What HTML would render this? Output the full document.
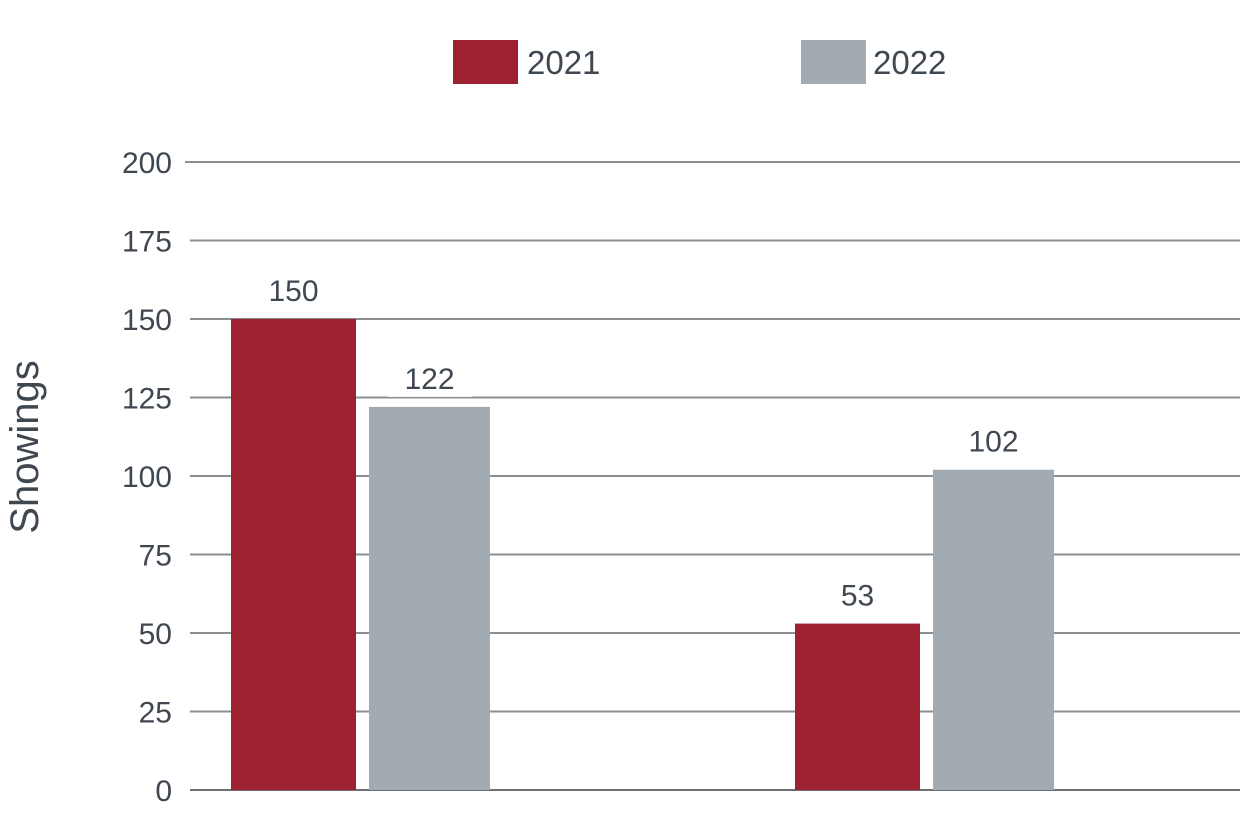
<!DOCTYPE html>
<html><head><meta charset="utf-8"><style>
body{margin:0;background:#fff;}
svg text{font-family:"Liberation Sans",sans-serif;fill:#3f4750;}
</style></head><body>
<svg width="1250" height="822" viewBox="0 0 1250 822">
<g id="legend">
<rect x="453" y="40" width="65" height="44" fill="#9e2131"/>
<text x="527" y="74" font-size="33">2021</text>
<rect x="801" y="40" width="65" height="44" fill="#a2abb1"/>
<text x="873" y="74" font-size="33">2022</text>
</g>
<text transform="translate(38,447) rotate(-90)" text-anchor="middle" font-size="40">Showings</text>
<g id="grid"></g><g id="bars"></g>
</svg>
<script>
const ticks=[0,25,50,75,100,125,150,175,200];
const categories=["A","B"];
const series2021=[150,53];
const series2022=[122,102];
const ns="http://www.w3.org/2000/svg";
const y0=790,y1=162,x0=185,x1=1240;
function y(v){return y0-(v/200)*(y0-y1);}
const grid=document.getElementById('grid'),bars=document.getElementById('bars');
ticks.forEach(t=>{
 const l=document.createElementNS(ns,'line');
 
 
 l.setAttribute('x1',t===200?185:190);l.setAttribute('x2',x1);
 l.setAttribute('y1',y(t));l.setAttribute('y2',y(t));
 l.setAttribute('stroke',t===0?'#6b7077':'#8a8f94');l.setAttribute('stroke-width',2);
 grid.appendChild(l);
 const tx=document.createElementNS(ns,'text');
 
 
 tx.setAttribute('x',172);tx.setAttribute('y',y(t)+11);
 tx.setAttribute('text-anchor','end');tx.setAttribute('font-size','30');
 tx.textContent=t;grid.appendChild(tx);
});
const groupX=[231,795];
function bar(x,w,v,color,name){
 const r=document.createElementNS(ns,'rect');
 
 
 r.setAttribute('x',x);r.setAttribute('width',w);
 r.setAttribute('y',y(v));r.setAttribute('height',y0-y(v));
 r.setAttribute('fill',color);bars.appendChild(r);
 const bg=document.createElementNS(ns,'rect');
 
 
 bg.setAttribute('x',x+w/2-42);bg.setAttribute('y',y(v)-48);bg.setAttribute('width',84);bg.setAttribute('height',38);
 bg.setAttribute('fill','#fff');bars.appendChild(bg);
 const t=document.createElementNS(ns,'text');
 
 
 t.setAttribute('x',x+w/2);t.setAttribute('y',y(v)-18);
 t.setAttribute('text-anchor','middle');t.setAttribute('font-size','30');
 t.textContent=v;bars.appendChild(t);
}
categories.forEach((c,i)=>{
 bar(groupX[i],125,series2021[i],'#9e2131','bar-2021-'+c);
 bar(groupX[i]+138,121,series2022[i],'#a2abb1','bar-2022-'+c);
});
</script>
</body></html>
